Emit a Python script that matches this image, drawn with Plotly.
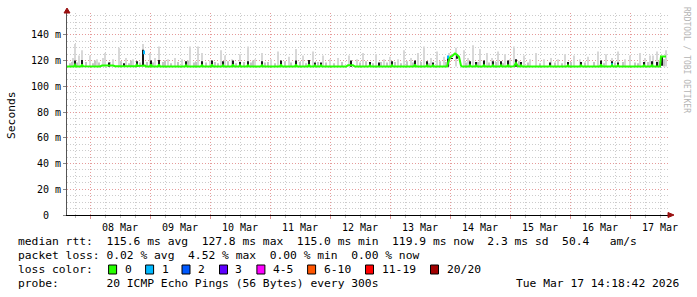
import plotly.graph_objects as go
import pandas as pd

BASE = pd.Timestamp("2026-03-08 00:00:00")

# ---- data (hours since 08 Mar 00:00, values in ms) ----
# median rtt drawn in loss colour 0 (green)
median_hours = [-9.2, -6.4, -6.0, -5.6, -3.6, -3.2, -2.8, 4.0, 4.8, 9.2, 10.0, 18.4, 18.8, 19.2, 20.8,
                21.2, 21.6, 22.0, 22.4, 24.0, 24.4, 24.8, 27.2, 27.6, 28.0, 38.0, 38.4, 38.8, 44.4, 44.8,
                45.2, 48.4, 48.8, 49.2, 52.8, 53.2, 53.6, 56.8, 57.2, 57.6, 59.6, 60.0, 60.4, 62.8, 63.2,
                63.6, 68.4, 68.8, 69.2, 76.0, 76.4, 76.8, 82.0, 82.4, 82.8, 87.2, 87.6, 88.0, 89.6, 90.0,
                90.4, 92.0, 92.4, 92.8, 102.4, 103.2, 105.2, 106.0, 111.6, 112.0, 112.4, 120.4, 120.8, 121.2,
                129.6, 130.0, 130.4, 134.4, 134.8, 135.2, 136.8, 137.2, 137.6, 142.8, 143.2, 144.0, 144.8,
                146.0, 146.8, 147.6, 148.4, 148.8, 151.6, 152.0, 152.4, 154.0, 154.4, 154.8, 157.2, 157.6,
                158.0, 160.8, 161.2, 161.6, 164.0, 164.4, 164.8, 166.8, 167.2, 167.6, 169.6, 170.4, 171.2,
                172.0, 172.4, 172.8, 183.6, 184.0, 184.4, 190.8, 191.2, 191.6, 196.0, 196.4, 196.8, 204.0,
                204.4, 204.8, 208.4, 208.8, 209.2, 210.8, 211.2, 211.6, 221.2, 221.6, 222.0, 224.4, 224.8,
                225.2, 228.0, 228.4, 230.4]
median_ms = [115.5, 115.5, 116.8, 115.5, 115.5, 117.0, 115.6, 115.5, 116.2, 116.2, 115.6, 115.6, 116.8, 115.8, 116.0,
             116.2, 116.2, 116.2, 115.5, 115.4, 117.0, 115.4, 115.4, 117.0, 115.4, 115.4, 116.5, 115.4, 115.4, 116.8,
             115.4, 115.4, 117.0, 115.4, 115.4, 116.5, 115.4, 115.4, 117.0, 115.4, 115.4, 116.5, 115.4, 115.4, 116.8,
             115.4, 115.4, 116.8, 115.4, 115.4, 117.0, 115.4, 115.4, 117.0, 115.4, 115.4, 117.0, 115.4, 115.4, 116.3,
             115.4, 115.4, 116.3, 115.4, 115.4, 116.3, 116.3, 115.4, 115.4, 116.3, 115.4, 115.4, 116.5, 115.4,
             115.4, 117.0, 115.4, 115.4, 116.5, 115.4, 115.4, 116.3, 115.4, 115.4, 118.0, 122.5, 123.5,
             125.5, 124.5, 123.0, 116.0, 115.4, 115.4, 116.5, 115.4, 115.4, 116.3, 115.4, 115.4, 116.8,
             115.4, 115.4, 116.5, 115.4, 115.4, 116.5, 115.4, 115.4, 116.8, 115.4, 115.6, 118.0, 115.6,
             115.4, 116.3, 115.4, 115.4, 116.0, 115.4, 115.4, 116.3, 115.4, 115.4, 116.3, 115.4, 115.4,
             117.0, 115.4, 115.4, 116.5, 115.4, 115.4, 116.3, 115.4, 115.4, 116.3, 115.4, 115.4, 116.5,
             115.4, 115.4, 123.2, 123.2]

# tall light smoke columns
smoke_hours = [-6.8, -6.0, -4.4, -3.2, 0.0, 2.8, 5.2, 6.0, 9.2, 11.6, 14.4, 17.2, 21.2, 24.0, 26.0, 27.6,
               31.2, 34.0, 36.8, 40.0, 43.2, 44.8, 48.0, 52.4, 54.0, 56.8, 60.0, 63.2, 66.0, 68.8, 72.4,
               75.2, 79.6, 82.4, 85.2, 89.2, 93.2, 96.0, 99.2, 103.6, 106.8, 109.2, 114.4, 117.6, 120.0,
               123.2, 125.6, 128.4, 131.2, 133.6, 136.4, 138.8, 141.6, 143.6, 146.4, 149.6, 151.2, 153.2,
               156.0, 158.8, 160.8, 163.2, 166.0, 168.0, 169.6, 173.6, 176.0, 178.4, 181.6, 184.4, 187.2,
               190.0, 193.6, 196.0, 199.2, 203.2, 206.4, 208.8, 211.2, 214.0, 216.0, 220.0, 222.0, 224.0,
               225.2, 226.8, 230.4]
smoke_top_ms = [122, 133, 124, 128, 124, 121, 122, 126, 121, 130, 122, 121, 133, 126, 122, 131,
                121, 122, 121, 131, 131, 126, 120, 128, 124, 121, 125, 131, 121, 126, 121,
                127, 123, 129, 124, 127, 124, 121, 122, 124, 121, 126, 125, 121, 123,
                121, 128, 122, 126, 131, 122, 127, 123, 126, 130, 128, 122, 132,
                129, 126, 122, 127, 125, 121, 131, 124, 121, 126, 121, 122, 121,
                125, 124, 121, 123, 127, 125, 122, 127, 121, 124, 126, 122, 124,
                124, 127, 128]
smoke_base_ms = 115.5

# low smoke patches close to the median
low_smoke_hours = [-8.0, -7.2, -5.2, -1.6, 1.2, 2.0, 3.6, 8.0, 12.4, 15.6, 16.4, 20.0, 22.8, 25.2, 29.2, 30.0,
                   32.4, 35.2, 39.2, 41.6, 42.4, 46.4, 50.0, 51.2, 55.2, 58.4, 61.6, 64.4, 65.2, 70.0, 71.2,
                   74.0, 78.0, 80.4, 84.0, 86.4, 91.2, 94.4, 97.6, 100.8, 108.0, 110.4, 113.2, 116.4,
                   118.8, 122.0, 124.4, 126.8, 129.2, 132.4, 135.6, 140.0, 142.4, 150.4, 155.2, 159.6,
                   162.4, 165.2, 171.6, 175.2, 180.0, 186.0, 188.8, 192.4, 198.0, 201.6, 205.6, 210.0,
                   213.2, 218.0, 219.2, 223.2, 227.6, 229.6]
low_smoke_top_ms = [118, 119, 118.5, 119, 118, 120, 118.5, 119, 119.5, 118, 120, 118.5, 119, 118.5, 119, 120,
                    118, 119, 120, 118.5, 119, 118.5, 119, 118, 119.5, 118, 119, 118.5, 120, 118.5, 119,
                    118, 119.5, 118.5, 119, 118, 119, 118.5, 118, 119, 118.5, 119.5, 118, 119,
                    118.5, 119, 118, 119.5, 118.5, 119, 118, 119.5, 119, 118.5, 119, 118.5,
                    119, 118, 119.5, 118.5, 118, 118.5, 118, 119, 118.5, 119, 118, 118.5,
                    119, 118.5, 118, 119, 119.5, 121]

dark_hours = [-6.0, -3.2, 7.6, 13.6, 18.8, 21.2, 24.4, 27.6, 38.4, 44.8, 48.8, 53.2, 57.2, 60.0, 63.2, 68.8,
              76.4, 82.4, 87.6, 90.0, 92.4, 104.4, 112.0, 115.6, 120.8, 130.0, 134.8, 137.2, 143.2, 144.8,
              146.8, 152.0, 154.4, 157.6, 161.2, 164.4, 167.2, 170.4, 172.4, 184.0, 191.2, 196.4, 204.4,
              208.8, 211.2, 221.6, 224.8, 226.8, 228.8]
dark_top_ms = [120, 120.5, 118.5, 118, 119.5, 128.5, 120, 120.5, 119.5, 119.5, 120, 119.5, 120, 119, 119.5, 119.5,
               120, 120, 120.5, 118.5, 118.5, 120, 119, 118.5, 119.5, 120, 119.5, 118.5, 122, 122,
               125, 119.5, 119, 120, 119.5, 119.5, 120, 121, 119, 118.5, 119, 119, 120,
               119.5, 118.5, 119, 119.5, 119, 123.5]
dark_base_ms = [115.3, 115.3, 115.3, 115.3, 115.3, 116.0, 115.3, 115.3, 115.3, 115.3, 115.3, 115.3, 115.3, 115.3, 115.3, 115.3,
                115.3, 115.3, 115.3, 115.3, 115.3, 115.3, 115.3, 115.3, 115.3, 115.3, 115.3, 115.3, 115.3, 121.5,
                121.5, 115.3, 115.3, 115.3, 115.3, 115.3, 115.3, 115.3, 115.3, 115.3, 115.3, 115.3, 115.3,
                115.3, 115.3, 115.3, 115.3, 115.3, 116.0]

# median rtt samples with 1/20 packets lost (loss colour 1, blue)
loss1_hours = [21.6, 143.2, 208.8]
loss1_low_ms = [125.0, 121.5, 115.5]
loss1_high_ms = [127.8, 124.0, 118.0]

y_tick_vals = [0, 20, 40, 60, 80, 100, 120, 140]
y_tick_text = ["0\u00a0\u00a0", "20 m", "40 m", "60 m", "80 m", "100 m", "120 m", "140 m"]

legend_lines = [
    "median rtt:  115.6 ms avg  127.8 ms max  115.0 ms min  119.9 ms now  2.3 ms sd  50.4   am/s",
    "packet loss: 0.02 % avg  4.52 % max  0.00 % min  0.00 % now",
    "loss color:",
    "probe:       20 ICMP Echo Pings (56 Bytes) every 300s",
]
loss_labels = ["0", "1", "2", "3", "4-5", "6-10", "11-19", "20/20"]
loss_colors = ["#26ff00", "#00b8ff", "#0059ff", "#5e00ff", "#ff00ff", "#ff5500", "#ff0000", "#a10000"]
timestamp_text = "Tue Mar 17 14:18:42 2026"


def to_time(hours):
    return [BASE + pd.Timedelta(hours=h) for h in hours]


# ---- layout geometry (pixels) ----
W, H = 697, 297
L, R, T, B = 67, 668, 13, 215
PX_HOURS = 0.4  # one pixel column = 24 min
MONO = "DejaVu Sans Mono"
LEG_SIZE = 11.3


def px(x):
    return (x - L) / (R - L)


def py(y):
    return (B - y) / (B - T)


fig = go.Figure()

col_w = PX_HOURS * 3600 * 1000
fig.add_trace(go.Bar(
    x=to_time(smoke_hours), y=[t - smoke_base_ms for t in smoke_top_ms], base=smoke_base_ms,
    width=col_w, marker=dict(color="#d8d8d8", line=dict(width=0)), hoverinfo="skip"))
fig.add_trace(go.Bar(
    x=to_time(low_smoke_hours), y=[t - smoke_base_ms for t in low_smoke_top_ms], base=smoke_base_ms,
    width=col_w * 1.5, marker=dict(color="#c4c4c4", line=dict(width=0)), hoverinfo="skip"))
fig.add_trace(go.Scatter(
    x=to_time(median_hours), y=median_ms, mode="lines",
    line=dict(color="#26ff00", width=2), hoverinfo="skip"))
fig.add_trace(go.Bar(
    x=to_time(dark_hours), y=[t - b for t, b in zip(dark_top_ms, dark_base_ms)], base=dark_base_ms,
    width=col_w * 1.5, marker=dict(color="#1a1a1a", line=dict(width=0)), hoverinfo="skip"))
fig.add_trace(go.Bar(
    x=to_time(loss1_hours), y=[h - l for h, l in zip(loss1_high_ms, loss1_low_ms)], base=loss1_low_ms,
    width=col_w * 1.5, marker=dict(color="#00b8ff", line=dict(width=0)), hoverinfo="skip"))

x0 = BASE + pd.Timedelta(hours=(L - 90) * PX_HOURS)
x1 = BASE + pd.Timedelta(hours=(R - 90) * PX_HOURS)

annotations = []
for i, line in enumerate(legend_lines):
    annotations.append(dict(x=px(16), y=py(241 + 14 * i), xref="paper", yref="paper", text=line,
                            showarrow=False, xanchor="left", yanchor="middle",
                            font=dict(family=MONO, size=LEG_SIZE, color="#000")))
annotations.append(dict(x=px(681), y=py(283), xref="paper", yref="paper", text=timestamp_text,
                        showarrow=False, xanchor="right", yanchor="middle",
                        font=dict(family=MONO, size=LEG_SIZE, color="#000")))
swatch_x = [108.6, 145.6, 182.0, 219.5, 256.9, 307.6, 365.5, 430.5]
shapes = []
for sx, lab, colr in zip(swatch_x, loss_labels, loss_colors):
    shapes.append(dict(type="rect", xref="paper", yref="paper", x0=px(sx), x1=px(sx + 8),
                       y0=py(274), y1=py(265), fillcolor=colr, line=dict(color="#000", width=1)))
    annotations.append(dict(x=px(sx + 14), y=py(269), xref="paper", yref="paper", text=lab,
                            showarrow=False, xanchor="left", yanchor="middle",
                            font=dict(family=MONO, size=LEG_SIZE, color="#000")))
annotations.append(dict(x=px(11), y=py(115), xref="paper", yref="paper", text="Seconds",
                        showarrow=False, textangle=-90, xanchor="center", yanchor="middle",
                        font=dict(family=MONO, size=11.3, color="#000")))
annotations.append(dict(x=px(686), y=py(5), xref="paper", yref="paper", text="RRDTOOL / TOBI OETIKER",
                        showarrow=False, textangle=90, xanchor="center", yanchor="top",
                        font=dict(family=MONO, size=8, color="#b4b4b4")))

# axis arrows
shapes.append(dict(type="path", xref="x domain", yref="y domain", xsizemode="pixel", ysizemode="pixel",
                   xanchor=0, yanchor=1, path="M -3,0 L 3,0 L 0,5 Z",
                   fillcolor="#9a1010", line=dict(color="#9a1010", width=1)))
shapes.append(dict(type="path", xref="x domain", yref="y domain", xsizemode="pixel", ysizemode="pixel",
                   xanchor=1, yanchor=0, path="M 0,-2.5 L 0,2.5 L 6,0 Z",
                   fillcolor="#9a1010", line=dict(color="#9a1010", width=1)))

RED_GRID = "#e69a9a"
GRAY_GRID = "#cccccc"
DOTS = "1px,2px"

fig.update_layout(
    width=W, height=H, margin=dict(l=L, r=W - R, t=T, b=H - B, pad=0),
    paper_bgcolor="#ffffff", plot_bgcolor="#ffffff", showlegend=False, barmode="overlay",
    font=dict(family=MONO, size=10, color="#000"),
    annotations=annotations, shapes=shapes,
    xaxis=dict(type="date", range=[x0, x1], dtick=86400000, tick0="2026-03-08",
               tickformat="%d %b", ticklabelmode="period",
               showgrid=True, gridcolor=RED_GRID, griddash=DOTS, gridwidth=1,
               minor=dict(dtick=6 * 3600 * 1000, showgrid=True, gridcolor=GRAY_GRID, griddash=DOTS,
                          ticks="outside", ticklen=2, tickcolor="#bbbbbb"),
               ticks="outside", ticklen=3, tickcolor="#e09090",
               showline=True, linecolor="#000", linewidth=1, zeroline=False,
               tickfont=dict(family=MONO, size=10, color="#000"), fixedrange=True),
    yaxis=dict(range=[0, 157], tickvals=y_tick_vals, ticktext=y_tick_text,
               showgrid=True, gridcolor=RED_GRID, griddash=DOTS, gridwidth=1,
               minor=dict(dtick=5, tick0=0, showgrid=True, gridcolor=GRAY_GRID, griddash=DOTS),
               ticks="outside", ticklen=3, tickcolor="#888",
               showline=True, linecolor="#555", linewidth=1, zeroline=False,
               tickfont=dict(family=MONO, size=10, color="#000"), fixedrange=True),
)

fig.write_html("out.html")
